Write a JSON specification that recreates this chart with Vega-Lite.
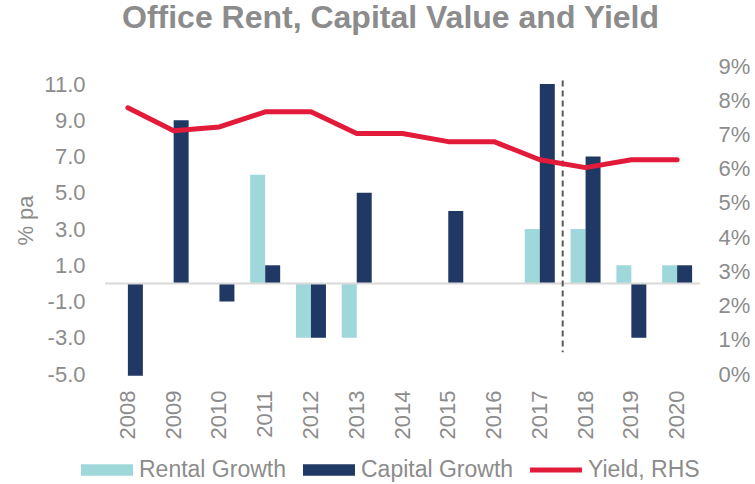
{
  "$schema": "https://vega.github.io/schema/vega-lite/v6.json",
  "width": 595,
  "height": 308,
  "autosize": {"type": "none"},
  "padding": {"left": 105, "top": 66, "right": 55, "bottom": 110},
  "background": "white",
  "config": {
    "view": {"stroke": null},
    "font": "Liberation Sans",
    "axis": {
      "labelFont": "Liberation Sans",
      "labelFontSize": 22,
      "labelColor": "#8c8c8c",
      "titleColor": "#8c8c8c",
      "titleFont": "Liberation Sans",
      "titleFontSize": 22,
      "titleFontWeight": "normal",
      "domain": false,
      "ticks": false,
      "grid": false
    }
  },
  "title": {
    "text": "Office Rent, Capital Value and Yield",
    "font": "Liberation Sans",
    "fontSize": 32,
    "fontWeight": "bold",
    "color": "#8c8c8c",
    "anchor": "middle",
    "frame": "group",
    "offset": 20,
    "dx": -12
  },
  "datasets": {
    "growth": [
      {"year": "2008", "series": "Rental Growth", "value": 0},
      {"year": "2008", "series": "Capital Growth", "value": -5.1},
      {"year": "2009", "series": "Rental Growth", "value": 0},
      {"year": "2009", "series": "Capital Growth", "value": 9},
      {"year": "2010", "series": "Rental Growth", "value": 0},
      {"year": "2010", "series": "Capital Growth", "value": -1},
      {"year": "2011", "series": "Rental Growth", "value": 6},
      {"year": "2011", "series": "Capital Growth", "value": 1},
      {"year": "2012", "series": "Rental Growth", "value": -3},
      {"year": "2012", "series": "Capital Growth", "value": -3},
      {"year": "2013", "series": "Rental Growth", "value": -3},
      {"year": "2013", "series": "Capital Growth", "value": 5},
      {"year": "2014", "series": "Rental Growth", "value": 0},
      {"year": "2014", "series": "Capital Growth", "value": 0},
      {"year": "2015", "series": "Rental Growth", "value": 0},
      {"year": "2015", "series": "Capital Growth", "value": 4},
      {"year": "2016", "series": "Rental Growth", "value": 0},
      {"year": "2016", "series": "Capital Growth", "value": 0},
      {"year": "2017", "series": "Rental Growth", "value": 3},
      {"year": "2017", "series": "Capital Growth", "value": 11},
      {"year": "2018", "series": "Rental Growth", "value": 3},
      {"year": "2018", "series": "Capital Growth", "value": 7},
      {"year": "2019", "series": "Rental Growth", "value": 1},
      {"year": "2019", "series": "Capital Growth", "value": -3},
      {"year": "2020", "series": "Rental Growth", "value": 1},
      {"year": "2020", "series": "Capital Growth", "value": 1}
    ],
    "yield": [
      {"year": "2008", "yield": 7.78},
      {"year": "2009", "yield": 7.11},
      {"year": "2010", "yield": 7.22},
      {"year": "2011", "yield": 7.66},
      {"year": "2012", "yield": 7.66},
      {"year": "2013", "yield": 7.03},
      {"year": "2014", "yield": 7.03},
      {"year": "2015", "yield": 6.79},
      {"year": "2016", "yield": 6.79},
      {"year": "2017", "yield": 6.26},
      {"year": "2018", "yield": 6.03},
      {"year": "2019", "yield": 6.26},
      {"year": "2020", "yield": 6.26}
    ]
  },
  "layer": [
    {
      "layer": [
        {
          "data": {"name": "growth"},
          "mark": {"type": "bar"},
          "encoding": {
            "x": {
              "field": "year",
              "type": "ordinal",
              "scale": {"paddingInner": 0, "paddingOuter": 0},
              "axis": {"title": null, "labelAngle": 270, "labelPadding": 16}
            },
            "xOffset": {
              "field": "series",
              "type": "nominal",
              "scale": {"domain": ["Rental Growth", "Capital Growth"], "paddingInner": 0, "paddingOuter": 0.527}
            },
            "y": {
              "field": "value",
              "type": "quantitative",
              "scale": {"domain": [-5, 12], "nice": false, "zero": false},
              "axis": {
                "title": "% pa",
                "values": [-5, -3, -1, 1, 3, 5, 7, 9, 11],
                "labelExpr": "(datum.value < 0 ? '-' : '') + format(abs(datum.value), '.1f')",
                "labelOverlap": false,
                "labelSeparation": 0,
                "labelPadding": 20,
                "titlePadding": 6
              }
            },
            "color": {
              "field": "series",
              "type": "nominal",
              "scale": {
                "domain": ["Rental Growth", "Capital Growth", "Yield, RHS"],
                "range": ["#9fd8db", "#1f3864", "#e31b3b"]
              },
              "legend": {
                "title": null,
                "orient": "none",
                "direction": "horizontal",
                "legendX": -24,
                "legendY": 378,
                "padding": 0,
                "labelFont": "Liberation Sans",
                "labelFontSize": 23,
                "labelColor": "#8c8c8c",
                "labelOffset": 6,
                "columnPadding": 16,
                "symbolSize": 2704,
                "symbolStrokeWidth": 0,
                "encode": {
                  "symbols": {
                    "update": {
                      "shape": {"signal": "datum.value === 'Yield, RHS' ? 'M-1,-0.1H1V0.1H-1Z' : 'M-1,-0.22H1V0.22H-1Z'"},
                      "size": {"value": 2704},
                      "fill": {"scale": "color", "field": "value"},
                      "strokeWidth": {"value": 0},
                      "opacity": {"value": 1}
                    }
                  }
                }
              }
            }
          }
        },
        {
          "data": {"values": [{"value": 0}]},
          "mark": {"type": "rule", "color": "#d9d9d9", "strokeWidth": 2},
          "encoding": {
            "y": {
              "field": "value",
              "type": "quantitative",
              "axis": {
                "title": "% pa",
                "values": [-5, -3, -1, 1, 3, 5, 7, 9, 11],
                "labelExpr": "(datum.value < 0 ? '-' : '') + format(abs(datum.value), '.1f')",
                "labelOverlap": false,
                "labelSeparation": 0,
                "labelPadding": 20,
                "titlePadding": 6
              }
            }
          }
        },
        {
          "data": {"values": [{"year": "2017", "value": 11.2, "bottom": -3.8}]},
          "mark": {"type": "rule", "color": "#595959", "strokeWidth": 2, "strokeDash": [6, 4]},
          "encoding": {
            "x": {
              "field": "year",
              "type": "ordinal",
              "bandPosition": 1,
              "axis": {"title": null, "labelAngle": 270, "labelPadding": 16}
            },
            "y": {
              "field": "value",
              "type": "quantitative",
              "axis": {
                "title": "% pa",
                "values": [-5, -3, -1, 1, 3, 5, 7, 9, 11],
                "labelExpr": "(datum.value < 0 ? '-' : '') + format(abs(datum.value), '.1f')",
                "labelOverlap": false,
                "labelSeparation": 0,
                "labelPadding": 20,
                "titlePadding": 6
              }
            },
            "y2": {"field": "bottom"}
          }
        }
      ]
    },
    {
      "data": {"name": "yield"},
      "mark": {"type": "line", "strokeWidth": 5, "strokeCap": "round", "strokeJoin": "round"},
      "encoding": {
        "x": {
          "field": "year",
          "type": "ordinal",
          "axis": {"title": null, "labelAngle": 270, "labelPadding": 16}
        },
        "y": {
          "field": "yield",
          "type": "quantitative",
          "scale": {"domain": [0, 9], "nice": false},
          "axis": {
            "orient": "right",
            "title": null,
            "values": [0, 1, 2, 3, 4, 5, 6, 7, 8, 9],
            "labelExpr": "datum.value + '%'",
            "labelPadding": 18
          }
        },
        "color": {"datum": "Yield, RHS"}
      }
    }
  ],
  "resolve": {"scale": {"y": "independent"}}
}
